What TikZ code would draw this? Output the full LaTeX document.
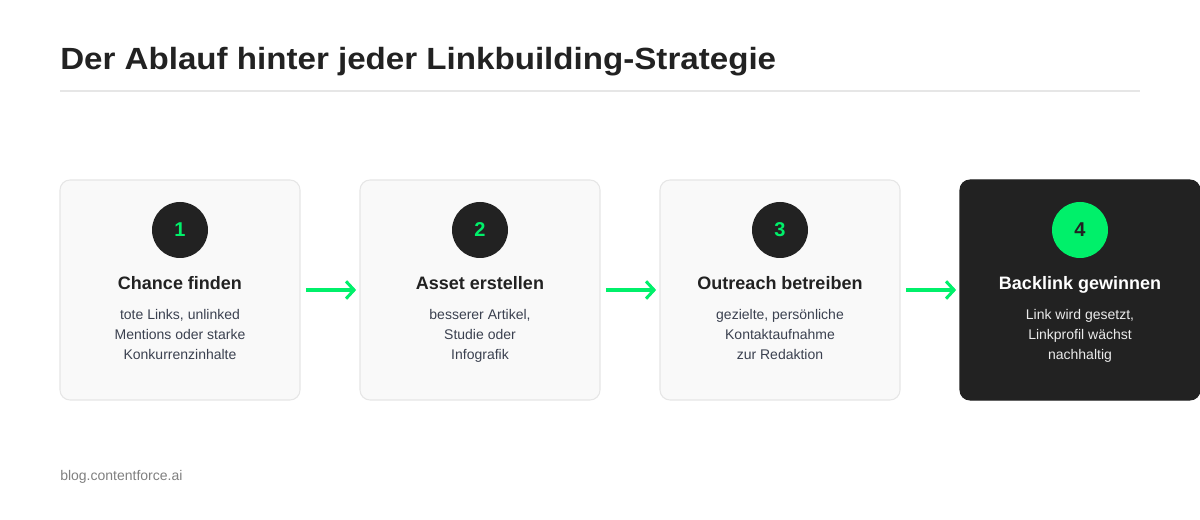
\documentclass[tikz,border=0pt]{standalone}
\usepackage{fontspec}
\setmainfont{Liberation Sans}
\newfontfamily\titlefont[FakeStretch=1.08]{Liberation Sans}
\usetikzlibrary{arrows.meta}
\definecolor{cardfill}{HTML}{F9F9F9}
\definecolor{cardline}{HTML}{E6E6E6}
\definecolor{ink}{HTML}{222222}
\definecolor{signal}{HTML}{00F06A}
\definecolor{desc}{HTML}{3B4150}
\tikzset{
	card/.style={draw=cardline, fill=cardfill, line width=0.8pt, rounded corners=7.5pt, minimum width=180pt, minimum height=165pt},
	darkcard/.style={card, draw=ink, fill=ink},
	badge/.style={circle, fill=ink, minimum size=42pt, inner sep=0pt, text=signal, font=\bfseries\fontsize{15}{15}\selectfont},
	head/.style={text=ink, font=\bfseries\fontsize{13.5}{16}\selectfont},
	body/.style={text=desc, align=center, font=\fontsize{10.5}{15}\selectfont},
	flow/.style={draw=signal, line width=2.3pt, -{Straight Barb[length=6pt, width=13pt, line width=2.3pt]}, shorten <=4pt, shorten >=2.5pt}
}
\begin{document}
\begin{tikzpicture}[x=0.75pt, y=-0.75pt]
			%%%%% START %%%%%
			\useasboundingbox[fill=white] (0, 0) rectangle (1200, 520);
			
			\node[anchor=base west, inner sep=0pt, text=ink, font=\titlefont\bfseries\fontsize{23}{26}\selectfont] (title) at (60, 70) {Der Ablauf hinter jeder Linkbuilding-Strategie};
			\draw[cardline, line width=1.2pt] (60, 91) -- (1140, 91);
			
			\node[card] (c1) at (180, 290) {};
			\node[card] (c2) at (480, 290) {};
			\node[card] (c3) at (780, 290) {};
			\node[darkcard] (c4) at (1080, 290) {};
			
			\node[badge] (n1) at (180, 230) {1};
			\node[head, anchor=base] (h1) at (180, 290) {Chance finden};
			\node[body, anchor=north] (d1) at (180, 305) {tote Links, unlinked\\Mentions oder starke\\Konkurrenzinhalte};
			
			\node[badge] (n2) at (480, 230) {2};
			\node[head, anchor=base] (h2) at (480, 290) {Asset erstellen};
			\node[body, anchor=north] (d2) at (480, 305) {besserer Artikel,\\Studie oder\\Infografik};
			
			\node[badge] (n3) at (780, 230) {3};
			\node[head, anchor=base] (h3) at (780, 290) {Outreach betreiben};
			\node[body, anchor=north] (d3) at (780, 305) {gezielte, persönliche\\Kontaktaufnahme\\zur Redaktion};
			
			\node[badge, fill=signal, text=ink] (n4) at (1080, 230) {4};
			\node[head, anchor=base, text=white] (h4) at (1080, 290) {Backlink gewinnen};
			\node[body, anchor=north, text=white!92!black] (d4) at (1080, 305) {Link wird gesetzt,\\Linkprofil wächst\\nachhaltig};
			
			\draw[flow] (c1.east) -- (c2.west);
			\draw[flow] (c2.east) -- (c3.west);
			\draw[flow] (c3.east) -- (c4.west);
			
			\node[anchor=base west, inner sep=0pt, text=black!50, font=\fontsize{10.5}{12}\selectfont] (site) at (60, 480) {blog.contentforce.ai};
			%%%%% END %%%%%
\end{tikzpicture}
\end{document}
